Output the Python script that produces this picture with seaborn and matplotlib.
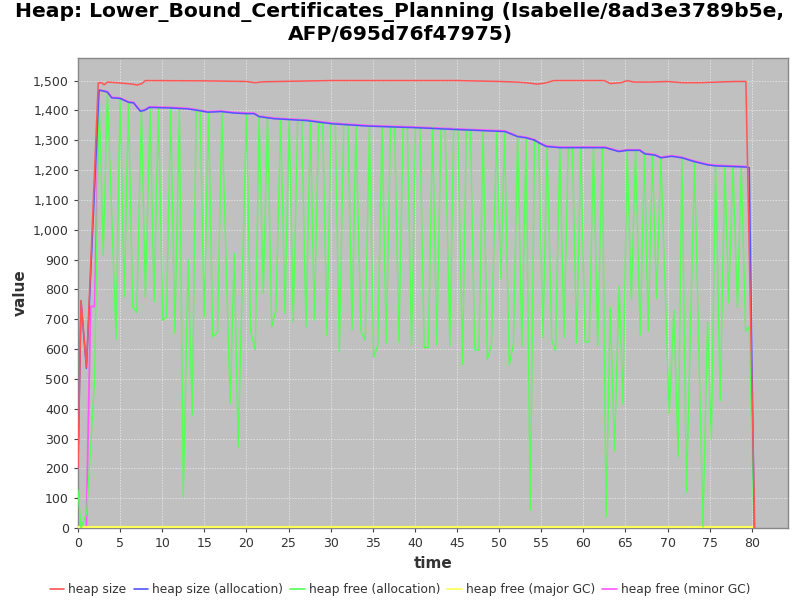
import matplotlib
matplotlib.use("Agg")
import matplotlib.pyplot as plt
import matplotlib.ticker as mticker
import seaborn as sns
import pandas as pd

title = "Heap: Lower_Bound_Certificates_Planning (Isabelle/8ad3e3789b5e,\nAFP/695d76f47975)"
series_names = ["heap size", "heap size (allocation)", "heap free (allocation)",
                "heap free (major GC)", "heap free (minor GC)"]

red_t = [0, 0.36, 1.0, 2.4, 2.8, 3.1, 3.5, 5.0, 6.5, 7.0, 7.6, 8.0, 15, 20, 21, 22, 30, 45, 50, 52,
         53.5, 54.5, 55.5, 56.5, 62.5, 63.2, 64.5, 65.2, 66, 68, 70, 71.7, 74, 78, 79.3, 80.35]
red_v = [200, 763, 540, 1492, 1493, 1486, 1495, 1492, 1488, 1485, 1490, 1500, 1499, 1497, 1493, 1496,
         1500, 1500, 1497, 1495, 1492, 1488, 1492, 1500, 1500, 1490, 1493, 1500, 1495, 1495, 1497,
         1493, 1493, 1497, 1497, 0]

blue_t = [0, 0.36, 1.0, 2.5, 3.0, 3.5, 4.0, 5.0, 6.0, 6.6, 7.4, 7.9, 8.5, 11.0, 13.0, 14.2, 15.4,
          17.0, 18.6, 20.0, 20.9, 21.5, 23.3, 27.1, 30.2, 34.6, 40.1, 45.6, 50.7, 52.2, 53.2, 54.2,
          54.8, 55.6, 57.2, 62.6, 64.2, 65.2, 66.7, 67.3, 68.5, 69.2, 70.5, 71.7, 73.2, 74.8, 75.7,
          79.3, 79.7, 80.3]
blue_v = [200, 760, 535, 1468, 1465, 1461, 1442, 1440, 1427, 1425, 1397, 1400, 1410, 1408, 1405,
          1400, 1394, 1396, 1391, 1389, 1389, 1379, 1372, 1366, 1355, 1347, 1342, 1335, 1329, 1312,
          1308, 1300, 1290, 1279, 1275, 1275, 1262, 1266, 1266, 1254, 1250, 1241, 1246, 1241, 1228,
          1217, 1214, 1210, 1208, 0]

green_t = [0.0, 0.36, 1.03, 1.98, 2.5, 3.0, 3.49, 4.52, 4.99, 5.5, 5.98, 6.5, 6.98, 7.53, 8.0, 8.56,
           9.03, 9.55, 10.07, 10.5, 11.0, 11.5, 12.04, 12.5, 13.08, 13.56, 14.03, 14.5, 14.98, 15.5,
           16.0, 16.57, 17.08, 18.07, 18.55, 19.02, 20.0, 20.5, 21.05, 21.5, 22.0, 22.5, 23.0, 23.5,
           24.06, 24.57, 25.08, 25.56, 26.08, 26.56, 27.07, 27.6, 28.06, 28.57, 29.05, 29.56, 30.04,
           30.55, 31.03, 31.55, 32.05, 32.54, 33.0, 33.6, 34.1, 34.6, 35.1, 35.6, 36.1, 36.6, 37.1,
           37.6, 38.1, 38.6, 39.1, 39.6, 40.07, 40.6, 41.1, 41.6, 42.1, 42.6, 43.1, 43.6, 44.15, 44.6,
           45.1, 45.66, 46.1, 46.6, 47.1, 47.6, 48.1, 48.6, 49.1, 49.7, 50.2, 50.65, 51.2, 51.7, 52.2,
           52.7, 53.2, 53.7, 54.2, 54.7, 55.2, 55.7, 56.25, 56.7, 57.2, 57.7, 58.2, 58.7, 59.2, 59.7,
           60.2, 60.7, 61.2, 61.7, 62.25, 62.7, 63.2, 63.7, 64.25, 64.7, 65.2, 65.7, 66.2, 66.75,
           67.26, 67.7, 68.2, 68.7, 69.2, 70.2, 70.75, 71.26, 71.7, 72.25, 73.2, 74.2, 74.75, 75.2,
           75.7, 76.25, 76.8, 77.25, 77.76, 78.3, 78.75, 79.27, 79.7, 80.26]
green_v = [127, 0, 50, 501, 1466, 914, 1461, 633, 1440, 775, 1427, 741, 723, 1400, 773, 1406,
           758, 1406, 696, 707, 1406, 654, 1406, 105, 900, 378, 1400, 1400, 707, 1394,
           641, 657, 1394, 418, 920, 272, 1389, 657, 596, 1383, 786, 1379, 674, 730,
           1372, 719, 1372, 691, 1368, 1368, 674, 1360, 696, 1357, 1357, 646, 1355,
           1355, 590, 1353, 1351, 665, 1349, 660, 629, 1346, 571, 613, 1346, 620, 1343,
           1343, 624, 1343, 1341, 613, 1341, 1341, 605, 605, 1343, 613, 1338, 1338, 610, 1338,
           1335, 549, 1333, 1333, 598, 596, 1330, 565, 618, 1327, 836, 1323, 546, 618, 1316,
           609, 1308, 60, 1299, 1290, 638, 1279, 629, 594, 1275, 638, 1275, 1275, 620, 1275,
           624, 624, 1275, 613, 1275, 36, 739, 259, 810, 415, 1266, 766, 1266, 646,
           1257, 660, 1249, 769, 1241, 382, 730, 239, 1241, 122, 1226, 4, 691, 297,
           1212, 426, 1212, 755, 1212, 739, 1210, 660, 674, 0]

yellow_t = [0.0, 80.3]
yellow_v = [5, 5]

pink_t = [1.0, 1.05, 1.5, 1.98, 2.5, 3.0, 3.5, 4.0, 5.0, 6.0, 6.6, 7.4, 7.9, 8.5, 11.0, 13.0, 14.2,
          15.4, 17.0, 18.6, 20.0, 20.9, 21.5, 23.3, 27.1, 30.2, 34.6, 40.1, 45.6, 50.7, 52.2, 53.2,
          54.2, 54.8, 55.6, 57.2, 62.6, 64.2, 65.2, 66.7, 67.3, 68.5, 69.2, 70.5, 71.7, 73.2, 74.8,
          75.7, 79.3]
pink_v = [0, 100, 743, 743, 1468, 1466, 1463, 1444, 1442, 1429, 1427, 1399, 1402, 1412, 1410, 1407,
          1402, 1396, 1398, 1393, 1391, 1391, 1381, 1374, 1368, 1357, 1349, 1344, 1337, 1331, 1314,
          1310, 1302, 1292, 1281, 1277, 1277, 1264, 1268, 1268, 1256, 1252, 1243, 1248, 1243, 1230,
          1219, 1216, 1212]

colors = ["#ff5555", "#5555ff", "#55ff55", "#ffff55", "#ff55ff"]

sns.set_theme(style="white")
plt.rcParams['font.family'] = ['DejaVu Sans']

fig = plt.figure(figsize=(8, 6), dpi=100)
ax = fig.add_axes([0.0975, 0.12, 0.8875, 0.783])
ax.set_facecolor("#c0c0c0")

data = [(pink_t, pink_v, 4, 1.3), (yellow_t, yellow_v, 3, 1.6), (green_t, green_v, 2, 1.0),
        (blue_t, blue_v, 1, 1.1), (red_t, red_v, 0, 1.1)]
for tt, vv, idx, lw in data:
    df = pd.DataFrame({"time": tt, "value": vv})
    sns.lineplot(data=df, x="time", y="value", ax=ax, color=colors[idx], linewidth=lw,
                 sort=False, estimator=None, zorder=3)

ax.set_xlim(0, 84.3)
ax.set_ylim(0, 1575)
ax.xaxis.set_major_locator(mticker.MultipleLocator(5))
ax.yaxis.set_major_locator(mticker.MultipleLocator(100))
ax.yaxis.set_major_formatter(mticker.FuncFormatter(lambda v, p: f"{v:,.0f}"))
ax.grid(True, color="#eeeeee", linestyle=(0, (2, 2)), linewidth=0.5)
ax.set_axisbelow(True)
for s in ax.spines.values():
    s.set_color("#888888")
    s.set_linewidth(1.0)
ax.tick_params(axis="both", labelsize=9, colors="#444444", length=3, width=0.8,
               direction="out", bottom=True, left=True)
for lab in ax.get_xticklabels() + ax.get_yticklabels():
    lab.set_color("#333333")
ax.set_xlabel("time", fontsize=11, fontweight="bold", color="#333333")
ax.set_ylabel("value", fontsize=11, fontweight="bold", color="#333333")
fig.suptitle(title, fontsize=14.6, fontweight="bold", y=0.997, color="black")

handles = [plt.Line2D([], [], color=c, linewidth=1.2) for c in colors]
fig.legend(handles, series_names, loc="lower center", bbox_to_anchor=(0.5, -0.012), ncol=5,
           frameon=False, fontsize=8.8, handlelength=1.2, handletextpad=0.3, columnspacing=0.6,
           labelcolor="#333333")

fig.savefig("out.png", dpi=100)
